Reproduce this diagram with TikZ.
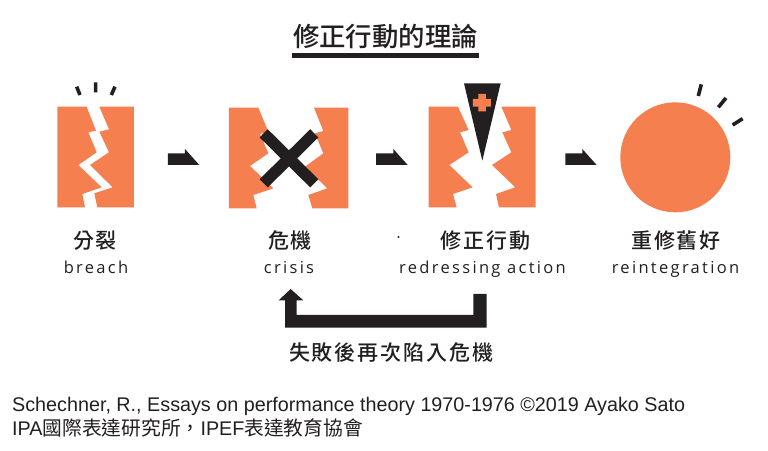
\documentclass[tikz,border=0pt]{standalone}
\usepackage{fontspec}
\setmainfont{Liberation Sans}
\newfontfamily\cjk{Noto Sans CJK TC}
\newfontfamily\cjkm{Noto Sans CJK TC Medium}
\newfontfamily\lat[LetterSpace=14]{Open Sans}
\definecolor{org}{HTML}{F67F50}
\definecolor{ink}{HTML}{231F20}
\tikzset{
 shard/.style={fill=org,draw=none},
 blk/.style={fill=ink,draw=none},
 tick/.style={draw=ink,line width=3.6pt},
 zh/.style={inner sep=0pt,text=ink,font=\fontsize{21}{21}\selectfont\cjkm},
 en/.style={inner sep=0pt,anchor=base,text=ink,font=\fontsize{16.5}{18}\selectfont\lat},
 note/.style={inner sep=0pt,anchor=base west,text=ink,font=\fontsize{19.75}{22}\selectfont}
}
\begin{document}
\begin{tikzpicture}[x=1pt,y=-1pt]
\useasboundingbox[fill=white] (0,0) rectangle (768,450);
\node[inner sep=0pt,font=\fontsize{26.4}{27}\selectfont\cjkm,text=ink] (title) at (385.5,36.5) {修正行動的理論};
\fill[ink] (292,53) rectangle (479,58);
% left zoom scope
\begin{scope}[shift={(40,70)},x=0.3333pt,y=-0.3333pt]
\fill[shard] (52,110)--(140,110)--(168,182)--(145,187)--(170,247)--(115,285)--(185,352)--(127,372)--(135,412)--(52,412)--cycle;
\fill[shard] (178,110)--(207,178)--(178,185)--(207,247)--(150,285)--(218,352)--(163,370)--(172,412)--(282,412)--(282,110)--cycle;
\draw[tick] (110,50)--(120,75) (167,37)--(167,67) (225,50)--(214,75);
\fill[blk] (384,250)--(435,250)--(435,237)--(478,285)--(384,285)--cycle;
\fill[shard] (567,113)--(655,113)--(685,185)--(660,192)--(685,250)--(630,288)--(700,355)--(640,375)--(650,415)--(567,415)--cycle;
\fill[shard] (822,113)--(925,113)--(925,415)--(817,415)--(805,375)--(862,355)--(795,290)--(850,250)--(825,190)--(850,183)--cycle;
\draw[ink,line width=11.5pt] (671,190)--(823,340) (823,190)--(671,340);
\end{scope}
\begin{scope}[shift={(370,70)},x=0.3333pt,y=-0.3333pt]
\fill[blk] (18,250)--(70,250)--(70,237)--(113,285)--(18,285)--cycle;
\fill[shard] (176,110)--(264,110)--(296,180)--(270,187)--(296,247)--(238,285)--(308,352)--(249,372)--(260,412)--(176,412)--cycle;
\fill[shard] (394,110)--(497,110)--(497,412)--(387,412)--(378,372)--(436,352)--(366,285)--(424,247)--(397,187)--(424,180)--cycle;
\fill[blk] (282,40)--(392,40)--(337,272)--cycle;
\fill[org] (325,72)--(348,72)--(348,87)--(363,87)--(363,110)--(348,110)--(348,124)--(325,124)--(325,110)--(309,110)--(309,87)--(325,87)--cycle;
\fill[blk] (586,250)--(637,250)--(637,237)--(680,285)--(586,285)--cycle;
\fill[org] (916,262) circle[radius=165];
\draw[tick] (994,43)--(985,78) (1068,84)--(1045,112) (1118,146)--(1088,165);
\end{scope}
\node[zh] (a1) at (95,240.5) {分\hspace{2pt}裂};
\node[en] (a2) at (96,273) {breach};
\node[zh] (b1) at (290,240.5) {危\hspace{2pt}機};
\node[en] (b2) at (289,273) {crisis};
\fill[ink] (398.5,237) circle[radius=1.2];
\node[zh] (c1) at (485.5,240.5) {修\hspace{2pt}正\hspace{2pt}行\hspace{2pt}動};
\node[en] (c2) at (482.5,273) {redressing action};
\node[zh] (d1) at (676,240.5) {重\hspace{2pt}修\hspace{2pt}舊\hspace{2pt}好};
\node[en] (d2) at (675.5,273) {reintegration};
\begin{scope}[shift={(260,220)},x=0.3333pt,y=-0.3333pt]
\fill[blk] (640,222)--(680,222)--(680,323)--(75,323)--(75,241)--(56,241)--(92,207)--(130,241)--(110,241)--(110,285)--(640,285)--cycle;
\end{scope}
\node[inner sep=0pt,text=ink,font=\fontsize{21}{21}\selectfont\cjkm] (e) at (391.5,353) {失\hspace{2pt}敗\hspace{2pt}後\hspace{2pt}再\hspace{2pt}次\hspace{2pt}陷\hspace{2pt}入\hspace{2pt}危\hspace{2pt}機};
\node[note] (n1) at (12,411) {Schechner, R., Essays on performance theory 1970-1976 ©2019 Ayako Sato};
\node[note] (n2) at (12,435) {IPA{\cjk 國際表達研究所，}IPEF{\cjk 表達教育協會}};
\end{tikzpicture}
\end{document}
